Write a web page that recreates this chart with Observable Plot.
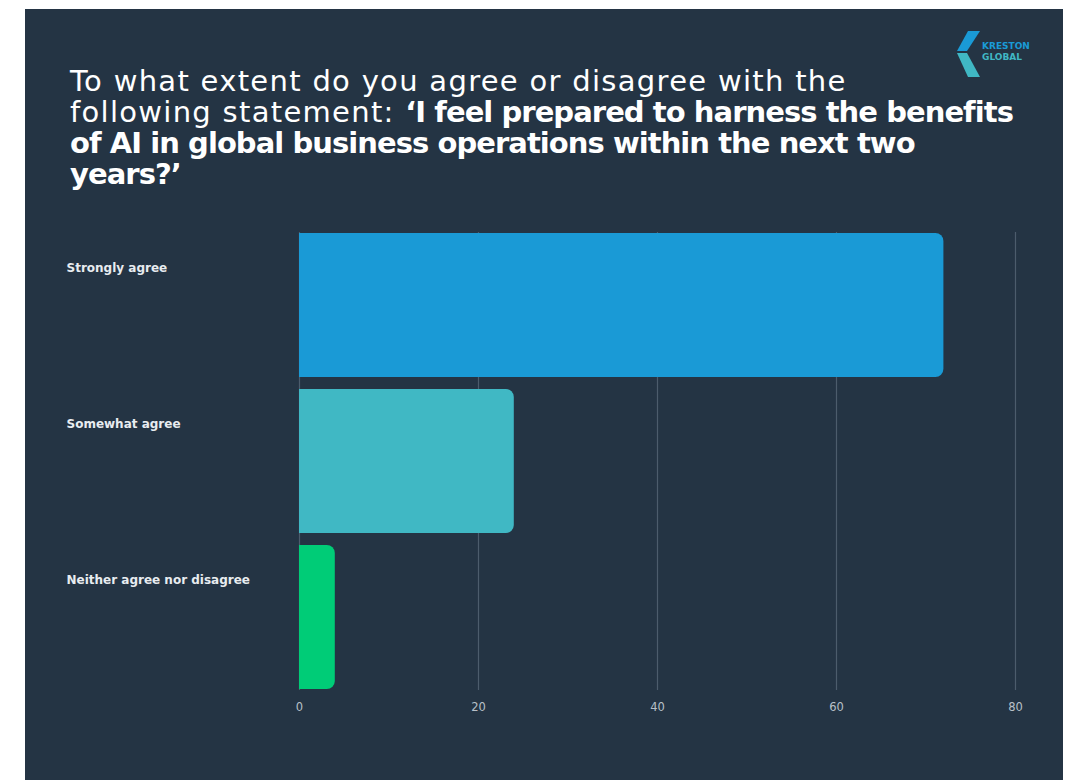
<!DOCTYPE html>
<html>
<head>
<meta charset="utf-8">
<script src="https://cdn.jsdelivr.net/npm/d3@7"></script>
<script src="https://cdn.jsdelivr.net/npm/@observablehq/plot@0.6"></script>
<style>
  html, body { margin: 0; padding: 0; background: #ffffff; }
  #panel { position: absolute; left: 25px; top: 9px; width: 1038px; height: 771px; background: #243444; overflow: hidden; }
  #title { position: absolute; left: 45px; top: 57px; font-family: "DejaVu Sans", sans-serif; font-size: 29px; line-height: 31px; color: #ffffff; white-space: nowrap; letter-spacing: 1.3px; }
  #title b { font-weight: bold; letter-spacing: -0.95px; }
  #logo { position: absolute; left: 925px; top: 18px; }
  #chart { position: absolute; left: 0px; top: 191px; }
</style>
</head>
<body>
<div id="panel">
  <div id="title">To what extent do you agree or disagree with the<br>following statement: <b>‘I feel prepared to harness the benefits<br>of AI in global business operations within the next two<br>years?’</b></div>
  <svg id="logo" width="100" height="60" viewBox="0 0 100 60">
    <polygon points="18,4 30,4 17,24 7,24" fill="#1a9ad6"/>
    <polygon points="7,26 17,26 30,50 18,50" fill="#40b8c4"/>
    <text x="32" y="22" font-family="DejaVu Sans, sans-serif" font-weight="bold" font-size="9" fill="#1a9ad6">KRESTON</text>
    <text x="32" y="33" font-family="DejaVu Sans, sans-serif" font-weight="bold" font-size="9" fill="#40b8c4">GLOBAL</text>
  </svg>
  <div id="chart"></div>
</div>
<script>
const categories = ["Strongly agree", "Somewhat agree", "Neither agree nor disagree"];
const values = [72, 24, 4];
const colors = ["#1a9ad6", "#40b8c4", "#00cc77"];
const xTicks = [0, 20, 40, 60, 80];

const data = categories.map((c, i) => ({category: c, value: values[i], color: colors[i]}));

const chart = Plot.plot({
  width: 1038,
  height: 530,
  marginLeft: 274,
  marginRight: 48,
  marginTop: 32,
  marginBottom: 40,
  style: { background: "transparent", color: "#b8c0c8", fontFamily: "DejaVu Sans, sans-serif" },
  x: { domain: [0, 80], ticks: xTicks, label: null },
  y: { domain: categories, paddingInner: 0.08, paddingOuter: 0, label: null },
  marks: [
    Plot.gridX(xTicks, { stroke: "#4c5c6c", strokeOpacity: 1, strokeWidth: 1.2 }),
    Plot.barX(data, { y: "category", x: "value", fill: "color", rx2: 8 }),
    Plot.axisX({ ticks: xTicks, tickSize: 0, tickPadding: 12, fontSize: 11.5, fill: "#b8c0c8", label: null }),
    Plot.axisY({ tickSize: 0, tickPadding: 0, textAnchor: "start", dx: -233, dy: -37, fontSize: 12, fontWeight: "bold", fill: "#e8ecf0", label: null })
  ]
});
document.getElementById("chart").appendChild(chart);
</script>
</body>
</html>
